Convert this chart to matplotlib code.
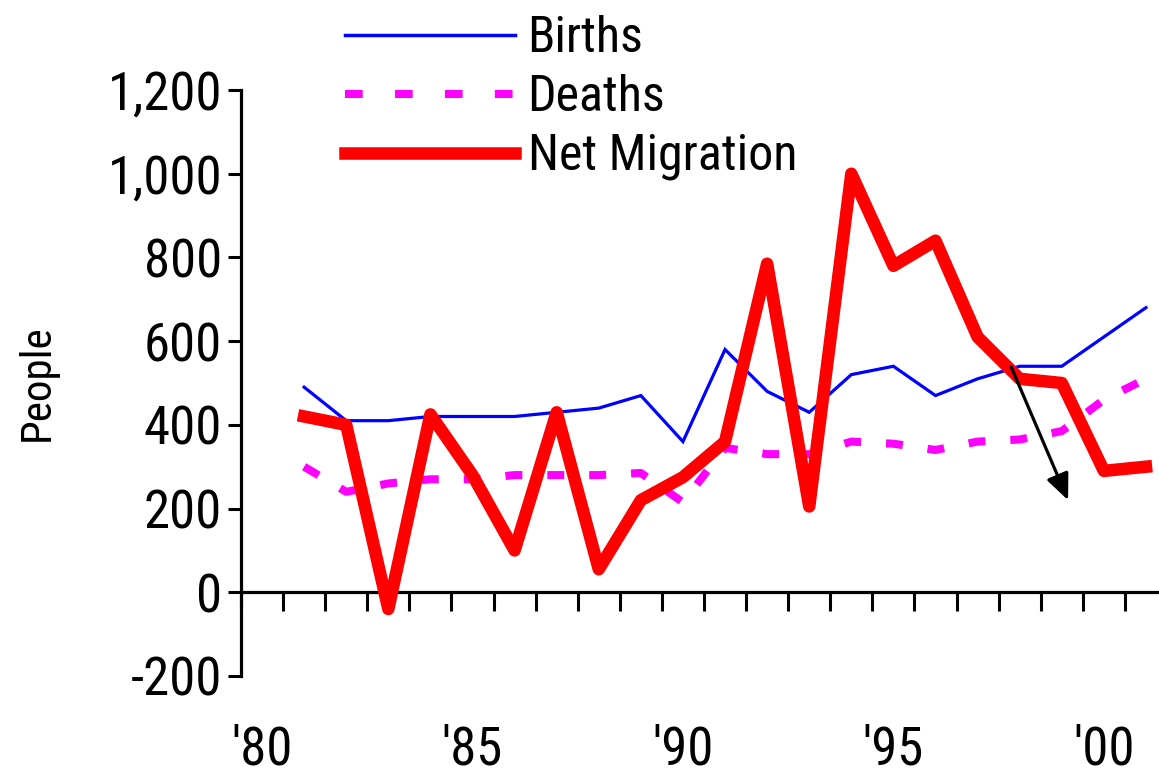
import matplotlib
matplotlib.use("Agg")
import matplotlib.pyplot as plt
from matplotlib.lines import Line2D
from matplotlib import font_manager
from matplotlib.font_manager import FontProperties

years = list(range(1981, 2002))
births = [490, 410, 410, 420, 420, 420, 430, 440, 470, 360, 580,
          480, 430, 520, 540, 470, 510, 540, 540, 610, 680]
deaths = [300, 240, 260, 270, 270, 280, 280, 280, 285, 215, 345,
          330, 330, 360, 355, 340, 360, 365, 385, 460, 510]
net_migration = [420, 400, -40, 425, 280, 100, 430, 55, 220, 275, 360,
                 785, 205, 1000, 780, 840, 610, 510, 500, 290, 300]
yticks = [-200, 0, 200, 400, 600, 800, 1000, 1200]
ytick_labels = ["-200", "0", "200", "400", "600", "800", "1,000", "1,200"]
xlabel_years = [1980, 1985, 1990, 1995, 2000]
xlabel_text = ["'80", "'85", "'90", "'95", "'00"]
arrow_start = (1997.8, 538)
arrow_end = (1999.15, 220)

# pick a narrow / condensed sans font if one is installed
fname = None
cands = []
for f in font_manager.fontManager.ttflist:
    low = (f.name + " " + f.fname).lower()
    if f.style != "normal" or f.weight not in (400, "normal", "regular"):
        continue
    if ("narrow" in low or "condensed" in low or
            f.stretch in ("condensed", "semi-condensed", "extra-condensed")):
        if "bold" in low or "italic" in low or "oblique" in low or "light" in low \
                or "semi" in f.fname.lower() or "mono" in low or "serif" in f.name.lower() and "sans" not in f.name.lower():
            continue
        cands.append(f)
pref = ["liberation sans narrow", "arial narrow", "roboto condensed",
        "open sans condensed", "dejavu sans"]
for p in pref:
    for f in cands:
        if p in (f.name + " " + f.fname).lower().replace("-", " ").replace("_", " ") \
                or p in f.name.lower():
            fname = f.fname
            break
    if fname:
        break
if fname is None and cands:
    fname = cands[0].fname

def fp(size):
    if fname:
        return FontProperties(fname=fname, size=size)
    return FontProperties(family="DejaVu Sans", size=size)

fig = plt.figure(figsize=(11.59, 7.76), dpi=100)
ax = fig.add_axes([241 / 1159, 100 / 776, 926 / 1159, 586 / 776])

ax.plot(years, births, color="#0000ff", lw=2.3, solid_joinstyle="miter", zorder=3)
ax.plot(years, deaths, color="#ff00ff", lw=5.8, dashes=(2.1, 3.1),
        dash_capstyle="butt", zorder=2)
ax.plot(years, net_migration, color="#ff0000", lw=9, solid_joinstyle="round",
        zorder=4)

ax.annotate("", xy=arrow_end, xytext=arrow_start,
            arrowprops=dict(arrowstyle="-|>,head_length=1.6,head_width=0.7",
                            color="black", lw=2.3, shrinkA=0, shrinkB=0),
            zorder=6)

ax.set_xlim(1979.5, 2001.5)
ax.set_ylim(-200, 1200)

ax.spines["top"].set_visible(False)
ax.spines["right"].set_visible(False)
ax.spines["left"].set_linewidth(2.3)
ax.spines["bottom"].set_linewidth(2.3)
ax.spines["bottom"].set_position(("data", 0))

ax.set_yticks(yticks)
ax.set_yticklabels(ytick_labels, fontproperties=fp(38))
ax.tick_params(axis="y", direction="out", length=9.5, width=2.2, pad=4)
ax.set_xticks([y + 0.5 for y in range(1979, 2001)])
ax.set_xticklabels([])
ax.tick_params(axis="x", direction="out", length=13.5, width=2.2)

for yr, lab in zip(xlabel_years, xlabel_text):
    ax.text(yr, -377, lab, ha="center", va="center", fontproperties=fp(38),
            clip_on=False)

ax.set_ylabel("People", fontproperties=fp(31), labelpad=36)

handles = [
    Line2D([], [], color="#0000ff", lw=2.5),
    Line2D([], [], color="#ff00ff", lw=5.8, dashes=(2.2, 4.0),
           dash_capstyle="butt"),
    Line2D([], [], color="#ff0000", lw=9),
]
leg = ax.legend(handles, ["Births", "Deaths", "Net Migration"],
                loc="upper left", bbox_to_anchor=(345 / 1159, 1 - 14 / 776),
                bbox_transform=fig.transFigure, frameon=False, prop=fp(36),
                handlelength=3.4, handletextpad=0.25, labelspacing=0.22,
                borderpad=0.0, borderaxespad=0.0)

fig.savefig("out.png", dpi=100)
